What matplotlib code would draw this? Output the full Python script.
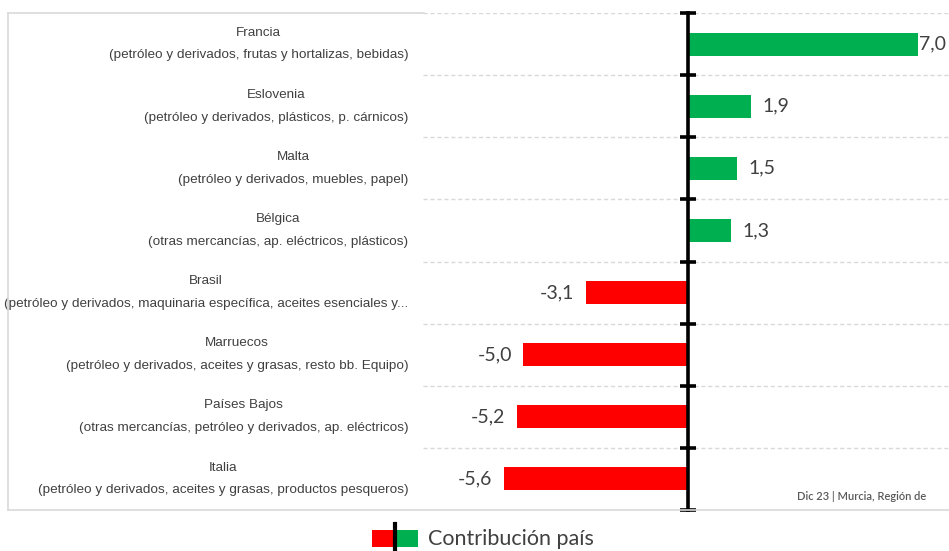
import matplotlib
matplotlib.use("Agg")
import matplotlib.pyplot as plt
from matplotlib.lines import Line2D
from matplotlib.patches import Rectangle

# datos (de arriba abajo)
paises = ["Francia", "Eslovenia", "Malta", "Bélgica", "Brasil",
          "Marruecos", "Países Bajos", "Italia"]
productos = [
    "(petróleo y derivados, frutas y hortalizas, bebidas)",
    "(petróleo y derivados, plásticos, p. cárnicos)",
    "(petróleo y derivados, muebles, papel)",
    "(otras mercancías, ap. eléctricos, plásticos)",
    "(petróleo y derivados, maquinaria específica, aceites esenciales y...",
    "(petróleo y derivados, aceites y grasas, resto bb. Equipo)",
    "(otras mercancías, petróleo y derivados, ap. eléctricos)",
    "(petróleo y derivados, aceites y grasas, productos pesqueros)",
]
contrib = [7.0, 1.9, 1.5, 1.3, -3.1, -5.0, -5.2, -5.6]
pie = "Dic 23 | Murcia, Región de"
leyenda = "Contribución país"

VERDE = "#00B050"
ROJO = "#FF0000"
TXT = "#404040"
GRIS = "#d9d9d9"

W, H = 949, 551
fig = plt.figure(figsize=(W / 100, H / 100), dpi=100)

def fx(px): return px / W
def fy(py): return 1 - py / H

# marco del gráfico
for xs, ys in [([8, 8], [13, 510]), ([8, 424], [13, 13]), ([8, 949], [510, 510])]:
    fig.add_artist(Line2D([fx(x) for x in xs], [fy(y) for y in ys], color=GRIS, lw=1.2))

ax = fig.add_axes([fx(423), fy(510), fx(949) - fx(423), fy(13) - fy(510)])
ax.set_facecolor("none")
n = len(paises)
ypos = list(range(n))
colores = [VERDE if v > 0 else ROJO for v in contrib]
ax.barh(ypos, contrib, height=0.37, color=colores, zorder=2)
ax.set_ylim(n - 0.5, -0.5)
ax.set_xlim(-8.05, 7.93)

limites = [i - 0.5 for i in range(n + 1)]
for b in limites[:-1]:
    ax.axhline(b, color=GRIS, lw=1, ls=(0, (3, 2)), zorder=0)

for s in ["top", "right", "bottom"]:
    ax.spines[s].set_visible(False)
ax.spines["left"].set_position(("data", 0))
ax.spines["left"].set_linewidth(2.6)
ax.spines["left"].set_color("black")
ax.spines["left"].set_zorder(3)
ax.set_yticks(limites)
ax.set_yticklabels([])
ax.tick_params(axis="y", direction="inout", length=12, width=2.6, color="black")
ax.set_xticks([])

# etiquetas de valor
for y, v in zip(ypos, contrib):
    txt = f"{v:.1f}".replace(".", ",")
    if v > 0:
        off = 0.03 if v > 6.5 else 0.35
        ax.text(v + off, y, txt, ha="left", va="center", fontsize=14,
                family=["Lato", "DejaVu Sans"], color=TXT)
    else:
        ax.text(v - 0.35, y, txt, ha="right", va="center", fontsize=14,
                family=["Lato", "DejaVu Sans"], color=TXT)

# etiquetas de categoría
cat_font = ["Liberation Sans", "DejaVu Sans"]
for y, p, d in zip(ypos, paises, productos):
    ax.text(-8.5, y, p + "\n" + d, ha="right", va="center", multialignment="center",
            fontsize=9.7, family=cat_font, color=TXT, linespacing=2.2)

fig.text(fx(797), fy(497), pie, ha="left", va="center", fontsize=8,
         family=["Lato", "DejaVu Sans"], color="#595959", fontweight="semibold")

# leyenda
fig.add_artist(Rectangle((fx(372), fy(547)), fx(21), fy(530) - fy(547), color=ROJO, lw=0))
fig.add_artist(Rectangle((fx(397), fy(547)), fx(21), fy(530) - fy(547), color=VERDE, lw=0))
fig.add_artist(Line2D([fx(395), fx(395)], [fy(524), fy(551)], color="black", lw=3))
fig.text(fx(428), fy(539), leyenda, ha="left", va="center", fontsize=15.5,
         family=["Lato", "DejaVu Sans"], color=TXT)

fig.savefig("out.png", dpi=100)
